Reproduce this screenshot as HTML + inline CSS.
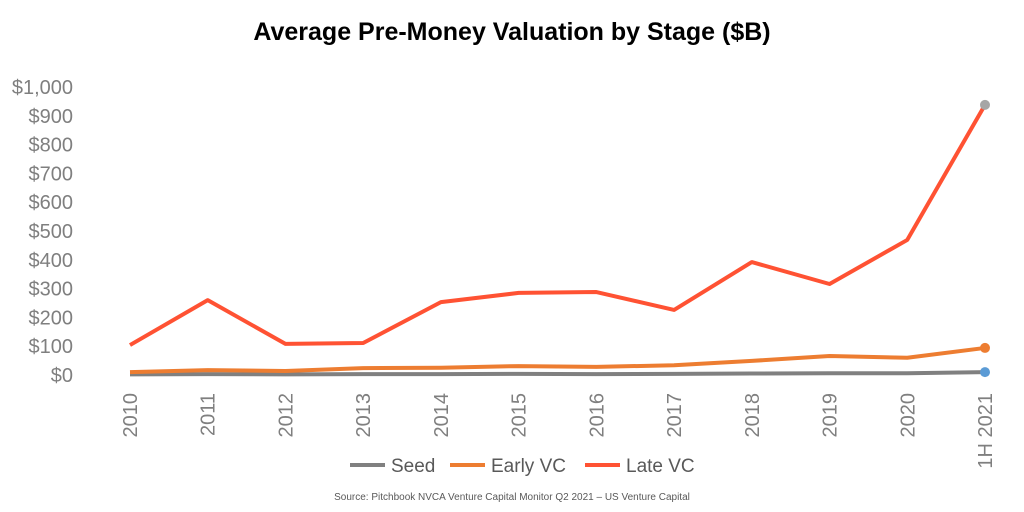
<!DOCTYPE html>
<html><head><meta charset="utf-8"><style>
body{margin:0;background:#fff;}
svg{display:block;font-family:"Liberation Sans",sans-serif;}
</style></head><body>
<svg id="chart" width="1024" height="512">
<text x="512" y="40" text-anchor="middle" font-size="25" font-weight="bold" fill="#000">Average Pre-Money Valuation by Stage ($B)</text>
<g id="yaxis"></g><g id="xaxis"></g><g id="series"></g>
<g>
<line x1="350" y1="465" x2="385" y2="465" stroke="#808080" stroke-width="4"/>
<text x="391" y="472" font-size="19" fill="#595959">Seed</text>
<line x1="450" y1="465" x2="485" y2="465" stroke="#ED7D31" stroke-width="4"/>
<text x="491" y="472" font-size="19" fill="#595959">Early VC</text>
<line x1="585" y1="465" x2="620" y2="465" stroke="#FF5233" stroke-width="4"/>
<text x="626" y="472" font-size="19" fill="#595959">Late VC</text>
</g>
<text x="512" y="500" text-anchor="middle" font-size="10" fill="#595959">Source: Pitchbook NVCA Venture Capital Monitor Q2 2021 – US Venture Capital</text>
</svg>
<script>
const categories=["2010","2011","2012","2013","2014","2015","2016","2017","2018","2019","2020","1H 2021"];
const seed=[2,3,2,3,3,4,3,4,5,6,6,10];
const earlyVC=[10,17,14,24,25,31,28,34,49,66,60,94];
const lateVC=[104,260,108,111,253,285,288,226,392,316,469,938];
const yTicks=[0,100,200,300,400,500,600,700,800,900,1000];
const yTickLabels=["$0","$100","$200","$300","$400","$500","$600","$700","$800","$900","$1,000"];
const NS="http://www.w3.org/2000/svg";
const x0=130,x1=985,y0=375,y1=87;
function xs(i){return x0+(x1-x0)*i/(categories.length-1);}
function ys(v){return y0-(y0-y1)*v/1000;}
function mk(t,a,p){const e=document.createElementNS(NS,t);for(const k in a)e.setAttribute(k,a[k]);p.appendChild(e);return e;}
const ya=document.getElementById('yaxis');
yTicks.forEach((v,i)=>{const t=mk('text',{x:73,y:ys(v)+7,'text-anchor':'end','font-size':20,fill:'#7f7f7f'},ya);t.textContent=yTickLabels[i];

});
const xa=document.getElementById('xaxis');
categories.forEach((c,i)=>{const x=xs(i)+7;const t=mk('text',{x:x,y:393,transform:`rotate(-90 ${x} 393)`,'text-anchor':'end','font-size':20,fill:'#7f7f7f'},xa);t.textContent=c;

});
const sg=document.getElementById('series');
[[seed,'#808080','seed-line','#5B9BD5'],[earlyVC,'#ED7D31','early-vc-line','#ED7D31'],[lateVC,'#FF5233','late-vc-line','#A6A6A6']].forEach(([d,c,n,mc])=>{
const p=mk('polyline',{points:d.map((v,i)=>xs(i)+','+ys(v)).join(' '),fill:'none',stroke:c,'stroke-width':4,'stroke-linejoin':'round'},sg);


const m=mk('circle',{cx:xs(d.length-1),cy:ys(d[d.length-1]),r:5,fill:mc},sg);


});
</script>
</body></html>
